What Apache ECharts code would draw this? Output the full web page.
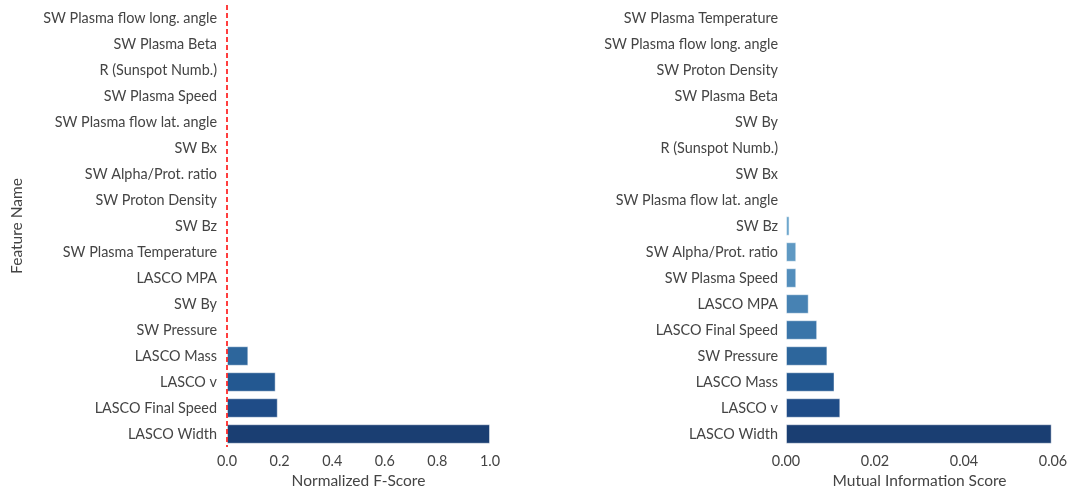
<!DOCTYPE html>
<html>
<head>
<meta charset="utf-8">
<script src="https://cdn.jsdelivr.net/npm/echarts@6/dist/echarts.min.js"></script>
<style>
  html, body { margin: 0; padding: 0; background: #fff; }
  #chart { width: 1073px; height: 494px; }
</style>
</head>
<body>
<div id="chart"></div>
<script>
// Feature rankings, listed top row first.
const fFeatures = [
  'SW Plasma flow long. angle', 'SW Plasma Beta', 'R (Sunspot Numb.)', 'SW Plasma Speed',
  'SW Plasma flow lat. angle', 'SW Bx', 'SW Alpha/Prot. ratio', 'SW Proton Density',
  'SW Bz', 'SW Plasma Temperature', 'LASCO MPA', 'SW By', 'SW Pressure',
  'LASCO Mass', 'LASCO v', 'LASCO Final Speed', 'LASCO Width'
];
const fScores = [
  0, 0, 0, 0,
  0, 0, 0, 0,
  0, 0, 0, 0.0005, 0.004,
  0.081, 0.185, 0.193, 1.0
];

const miFeatures = [
  'SW Plasma Temperature', 'SW Plasma flow long. angle', 'SW Proton Density', 'SW Plasma Beta',
  'SW By', 'R (Sunspot Numb.)', 'SW Bx', 'SW Plasma flow lat. angle',
  'SW Bz', 'SW Alpha/Prot. ratio', 'SW Plasma Speed', 'LASCO MPA', 'LASCO Final Speed',
  'SW Pressure', 'LASCO Mass', 'LASCO v', 'LASCO Width'
];
const miScores = [
  0, 0, 0, 0,
  0, 0, 0, 0.0001,
  0.0008, 0.0023, 0.0023, 0.0051, 0.0070,
  0.0093, 0.0109, 0.0122, 0.0597
];

const fTicks = [0, 0.2, 0.4, 0.6, 0.8, 1.0];
const miTicks = [0, 0.02, 0.04, 0.06];

// Blue ramp, darkest for the bottom row.
const ramp = [
  '#1a3e72', '#1f4c87', '#235891', '#2d669c', '#3a75a9', '#4782b3',
  '#538ebc', '#5f99c3', '#6fa7cd', '#7fb2d5', '#8ebcdb', '#9dc6e0',
  '#acd0e6', '#bad8eb', '#c8e0ef', '#d5e7f3', '#e2eff7'
];
function colourFor(idx, n) { return ramp[n - 1 - idx]; }

const textColor = '#444';
const font = 'Lato, "Noto Sans", sans-serif';
const labelSize = 14.4;
const titleSize = 15.5;

function barData(values) {
  return values.map((v, i) => ({
    value: v,
    itemStyle: {
      color: colourFor(i, values.length),
      borderColor: 'rgba(255,255,255,0.45)',
      borderWidth: 1
    }
  }));
}

const chart = echarts.init(document.getElementById('chart'), null, { renderer: 'canvas' });

const commonX = {
  type: 'value',
  axisLine: { show: false },
  axisTick: { show: false },
  splitLine: { show: false },
  nameLocation: 'middle',
  nameGap: 26,
  nameTextStyle: { color: textColor, fontSize: titleSize, fontFamily: font },
  axisLabel: { color: textColor, fontSize: labelSize, fontFamily: font, margin: 7 }
};
const commonY = {
  type: 'category',
  inverse: true,
  axisLine: { show: false },
  axisTick: { show: false },
  splitLine: { show: false },
  axisLabel: { color: textColor, fontSize: labelSize, fontFamily: font }
};

chart.setOption({
  backgroundColor: '#fff',
  animation: false,
  grid: [
    { left: 227, right: 583, top: 5, bottom: 42 },
    { left: 786, right: 20, top: 5, bottom: 42 }
  ],
  xAxis: [
    Object.assign({}, commonX, {
      gridIndex: 0, min: fTicks[0], max: fTicks[fTicks.length - 1], interval: 0.2,
      name: 'Normalized F-Score',
      axisLabel: Object.assign({}, commonX.axisLabel, { formatter: v => v.toFixed(1) })
    }),
    Object.assign({}, commonX, {
      gridIndex: 1, min: miTicks[0], max: miTicks[miTicks.length - 1], interval: 0.02,
      name: 'Mutual Information Score',
      axisLabel: Object.assign({}, commonX.axisLabel, { formatter: v => v.toFixed(2) })
    })
  ],
  yAxis: [
    Object.assign({}, commonY, {
      gridIndex: 0, data: fFeatures,
      name: 'Feature Name', nameLocation: 'middle', nameGap: 202, nameRotate: 90,
      nameTextStyle: { color: textColor, fontSize: titleSize, fontFamily: font },
      axisLabel: Object.assign({}, commonY.axisLabel, { margin: 10 })
    }),
    Object.assign({}, commonY, {
      gridIndex: 1, data: miFeatures,
      axisLabel: Object.assign({}, commonY.axisLabel, { margin: 8 })
    })
  ],
  series: [
    {
      type: 'bar', xAxisIndex: 0, yAxisIndex: 0,
      data: barData(fScores),
      barCategoryGap: '25%',
      markLine: {
        silent: true,
        symbol: 'none',
        label: { show: false },
        lineStyle: { color: '#ff0000', type: [5, 3], width: 1.5 },
        data: [{ xAxis: 0 }]
      }
    },
    {
      type: 'bar', xAxisIndex: 1, yAxisIndex: 1,
      data: barData(miScores),
      barCategoryGap: '25%'
    }
  ]
});
</script>
</body>
</html>
